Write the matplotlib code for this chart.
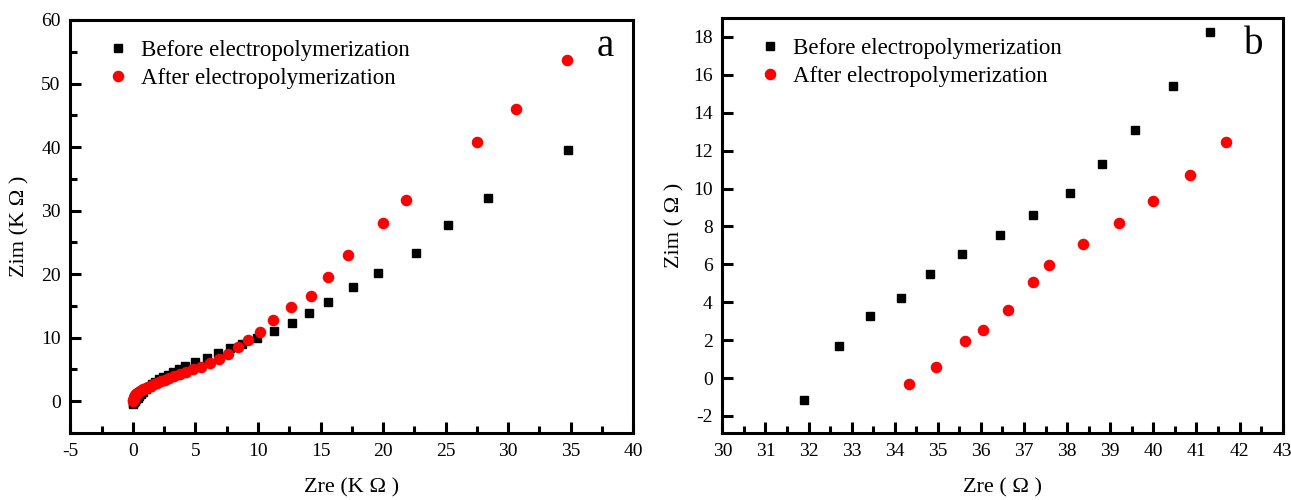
import matplotlib
matplotlib.use("Agg")
import matplotlib.pyplot as plt
from matplotlib.ticker import MultipleLocator

plt.rcParams["font.family"] = ["Liberation Serif", "DejaVu Serif"]
plt.rcParams["axes.unicode_minus"] = False

# panel a, units of K ohm
a_before_x = [0.0, 0.04, 0.1, 0.17, 0.26, 0.37, 0.5, 0.65, 0.82, 1.02, 1.25, 1.5,
              1.78, 2.08, 2.43, 2.8, 3.2, 3.65, 4.16, 4.96, 5.95, 6.78, 7.77, 8.7,
              9.9, 11.3, 12.7, 14.1, 15.6, 17.6, 19.6, 22.6, 25.2, 28.4, 34.8]
a_before_y = [-0.4, -0.3, -0.15, 0.05, 0.3, 0.55, 0.85, 1.15, 1.5, 1.85, 2.25, 2.65,
              3.05, 3.45, 3.85, 4.2, 4.6, 5.05, 5.5, 6.15, 6.85, 7.6, 8.4, 9.0,
              9.9, 11.1, 12.3, 13.9, 15.6, 18.0, 20.2, 23.4, 27.7, 32.0, 39.6]

a_after_x = [0.0, 0.02, 0.05, 0.09, 0.14, 0.2, 0.27, 0.35, 0.45, 0.56, 0.69, 0.84,
             1.01, 1.2, 1.41, 1.65, 1.92, 2.22, 2.55, 2.92, 3.32, 3.77, 4.27, 4.82,
             5.45, 6.15, 6.9, 7.6, 8.4, 9.2, 10.2, 11.2, 12.6, 14.2, 15.6, 17.2,
             20.0, 21.8, 27.5, 30.6, 34.7]
a_after_y = [0.0, 0.2, 0.4, 0.6, 0.8, 0.95, 1.1, 1.25, 1.4, 1.55, 1.7, 1.88,
             2.05, 2.25, 2.45, 2.68, 2.9, 3.12, 3.38, 3.65, 3.95, 4.25, 4.6, 5.0,
             5.45, 6.0, 6.6, 7.5, 8.5, 9.6, 10.9, 12.8, 14.8, 16.6, 19.6, 23.0,
             28.0, 31.6, 40.8, 46.0, 53.7]

# panel b, units of ohm
b_before_x = [31.89, 32.70, 33.43, 34.15, 34.82, 35.57, 36.45, 37.20, 38.07,
              38.81, 39.58, 40.45, 41.32]
b_before_y = [-1.18, 1.69, 3.30, 4.23, 5.50, 6.52, 7.54, 8.60, 9.76,
              11.29, 13.09, 15.43, 18.26]

b_after_x = [34.32, 34.95, 35.62, 36.05, 36.63, 37.22, 37.58, 38.38, 39.20,
             40.00, 40.84, 41.69]
b_after_y = [-0.32, 0.56, 1.96, 2.54, 3.61, 5.07, 5.96, 7.06, 8.18,
             9.34, 10.71, 12.47]

labels = ["Before electropolymerization", "After electropolymerization"]

fig = plt.figure(figsize=(12.91, 5.0), dpi=100)
ax_a = fig.add_axes([0.0545, 0.134, 0.436, 0.826])
ax_b = fig.add_axes([0.5595, 0.134, 0.434, 0.830])


def style_axes(ax):
    for sp in ax.spines.values():
        sp.set_linewidth(2.2)
    ax.tick_params(which="both", direction="in", top=False, right=False,
                   labelsize=14, pad=7)
    ax.tick_params(which="major", length=8, width=2.2)
    ax.tick_params(which="minor", length=5, width=2.2)


def add_legend(ax):
    ax.legend(loc="upper left", bbox_to_anchor=(0.04, 0.985), frameon=False,
              fontsize=16.5, handletextpad=0.5, labelspacing=0.3,
              handlelength=1.0, borderaxespad=0.2)


# panel a
ax_a.plot(a_before_x, a_before_y, "s", color="black", ms=6.3, label=labels[0])
ax_a.plot(a_after_x, a_after_y, "o", color="#ff0000", ms=7.3, mec="#ff0000",
          label=labels[1])
ax_a.set_xlim(-5, 40)
ax_a.set_ylim(-5, 60)
ax_a.xaxis.set_major_locator(MultipleLocator(5))
ax_a.xaxis.set_minor_locator(MultipleLocator(2.5))
ax_a.yaxis.set_major_locator(MultipleLocator(10))
ax_a.yaxis.set_minor_locator(MultipleLocator(5))
style_axes(ax_a)
ax_a.set_xlabel("Zre (K Ω )", fontsize=16, labelpad=13)
ax_a.set_ylabel("Zim (K Ω )", fontsize=16, labelpad=8)
ax_a.text(0.965, 0.935, "a", transform=ax_a.transAxes, fontsize=28,
          ha="right", va="center")
add_legend(ax_a)

# panel b
ax_b.plot(b_before_x, b_before_y, "s", color="black", ms=6.3, label=labels[0])
ax_b.plot(b_after_x, b_after_y, "o", color="#ff0000", ms=7.3, mec="#ff0000",
          label=labels[1])
ax_b.set_xlim(30, 43)
ax_b.set_ylim(-2.9, 19)
ax_b.xaxis.set_major_locator(MultipleLocator(1))
ax_b.xaxis.set_minor_locator(MultipleLocator(0.5))
ax_b.yaxis.set_major_locator(MultipleLocator(2))
style_axes(ax_b)
ax_b.set_xlabel("Zre ( Ω )", fontsize=16, labelpad=13)
ax_b.set_ylabel("Zim ( Ω )", fontsize=16, labelpad=6)
ax_b.text(0.965, 0.935, "b", transform=ax_b.transAxes, fontsize=28,
          ha="right", va="center")
add_legend(ax_b)

fig.savefig("out.png", dpi=100)
